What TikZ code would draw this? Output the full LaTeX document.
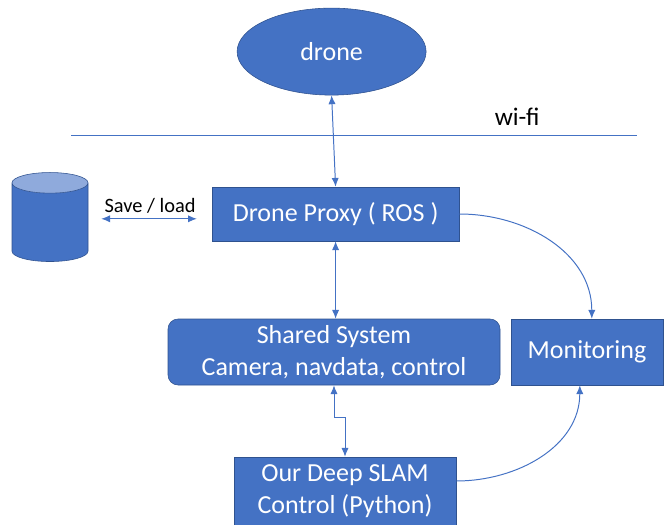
\documentclass[tikz,border=0pt]{standalone}
\usepackage{fontspec}
\setmainfont{Carlito}
\usetikzlibrary{arrows.meta, positioning, shapes.geometric}
\definecolor{boxblue}{HTML}{4472C4}
\definecolor{edgeblue}{HTML}{2F528F}
\definecolor{topblue}{HTML}{8FAADC}

\begin{document}
\begin{tikzpicture}[
    block/.style={rectangle, draw=edgeblue, fill=boxblue, text=white, align=center, font=\fontsize{18.5}{22.7}\selectfont},
    link/.style={draw=boxblue, line width=0.7pt, {Latex[length=2.2mm,width=1.8mm]}-{Latex[length=2.2mm,width=1.8mm]}},
    onelink/.style={draw=boxblue, line width=0.7pt, -{Latex[length=2.2mm,width=1.8mm]}}
]
\useasboundingbox (0,0) rectangle (16.625,-13.1);

% Drone and wireless border
\node[block, ellipse, minimum width=4.725cm, minimum height=2.175cm] (drone) at (8.29,-1.29) {drone};
\coordinate (wifiL) at (1.775,-3.375);
\coordinate (wifiR) at (15.925,-3.375);
\draw[boxblue, line width=0.7pt] (wifiL) -- (wifiR);
\node[font=\fontsize{18}{22}\selectfont] (wifi) at (12.93,-2.93) {wi-fi};

% Storage and ROS proxy
\node[cylinder, shape border rotate=90, aspect=2.2, draw=edgeblue, cylinder uses custom fill, cylinder body fill=boxblue, cylinder end fill=topblue, minimum width=1.9cm, minimum height=2.225cm] (store) at (1.25,-5.62) {};
\node[block, minimum width=6.175cm, minimum height=1.35cm] (proxy) at (8.39,-5.35) {Drone Proxy ( ROS )};

% Shared system and monitoring
\node[block, rounded corners=0.25cm, minimum width=8.3cm, minimum height=1.65cm] (shared) at (8.35,-8.8) {Shared System\\Camera, navdata, control};
\node[block, minimum width=3.8cm, minimum height=1.65cm] (monitor) at (14.675,-8.8) {Monitoring};

% Our control code
\node[block, minimum width=5.55cm, minimum height=1.7cm] (slam) at (8.625,-12.275) {Our Deep SLAM\\Control (Python)};

% Connections
\draw[link] (drone.south) -- (proxy.north);
\draw[link, shorten <=0.325cm, shorten >=0.375cm] ([yshift=0.15cm]store.east) -- node[midway, above, font=\fontsize{14.5}{17}\selectfont] {Save / load} ([yshift=0.15cm]store.east -| proxy.west);
\draw[link] (proxy.south) -- (proxy.south |- shared.north);
\draw[link] (shared.south) -- ++(0,-0.8) -| (slam.north);
\draw[onelink] (proxy.east) to[out=0, in=90] ([xshift=0.12cm]monitor.north);
\draw[onelink] ([yshift=0.25cm]slam.east) to[out=0, in=-90] ([xshift=-0.18cm]monitor.south);

\end{tikzpicture}
\end{document}
